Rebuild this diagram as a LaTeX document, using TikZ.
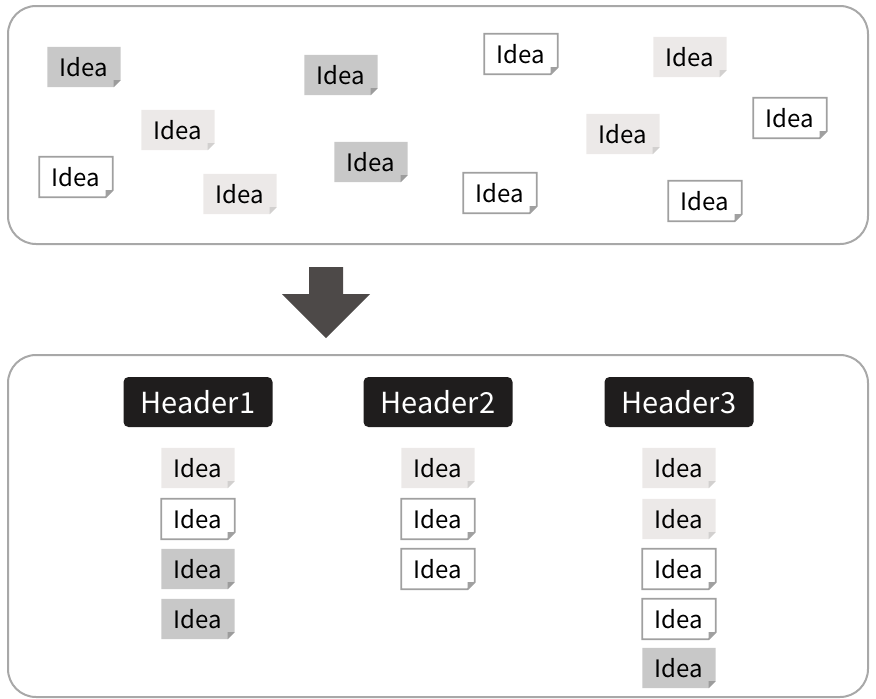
\documentclass[tikz,border=0pt]{standalone}
\usepackage{fontspec}
\setmainfont{Noto Sans CJK JP}
\usetikzlibrary{backgrounds}

\definecolor{panelline}{HTML}{A8A8A8}
\definecolor{noteDark}{HTML}{C8C8C8}
\definecolor{foldDark}{HTML}{9C9C9C}
\definecolor{noteLight}{HTML}{ECE9E8}
\definecolor{foldLight}{HTML}{D2D0CF}
\definecolor{noteLine}{HTML}{A0A0A0}
\definecolor{arrowfill}{HTML}{4D4948}
\definecolor{headfill}{HTML}{1F1D1D}

\tikzset{
  panel/.style={draw=panelline, line width=2pt, rounded corners=28pt},
  notetext/.style={minimum width=73pt, minimum height=40pt, inner sep=0pt,
    font=\fontsize{24}{28}\selectfont, text=black},
  darkpaper/.style={fill=noteDark},
  darkpaper fold/.style={fill=foldDark},
  lightpaper/.style={fill=noteLight},
  lightpaper fold/.style={fill=foldLight},
  linepaper/.style={fill=white, draw=noteLine, line width=1.8pt},
  linepaper fold/.style={fill=noteLine},
  header/.style={fill=headfill, rounded corners=5pt, minimum width=149pt,
    minimum height=50pt, inner sep=0pt, text=white,
    font=\fontsize{29}{33}\selectfont},
}

% one sticky note with a folded lower right corner
\newcommand\ideanote[3]{%
  \node[notetext] (#1) at (#2) {Idea};
  \begin{scope}[on background layer]
    \path[#3] (#1.north west) -- (#1.north east)
      -- ([yshift=7pt]#1.south east) -- ([xshift=-7pt]#1.south east)
      -- (#1.south west) -- cycle;
    \fill[#3 fold] ([yshift=7pt]#1.south east) -- ([xshift=-7pt]#1.south east)
      -- ([xshift=-7pt,yshift=7pt]#1.south east) -- cycle;
  \end{scope}}

\begin{document}
\begin{tikzpicture}[x=1pt, y=-1pt]
  \useasboundingbox (0,0) rectangle (876,699);

  % panels
  \draw[panel] (8,6) rectangle (868,244);
  \draw[panel] (8,355) rectangle (868,697);

  % downward arrow
  \fill[arrowfill] (309,267) -- (343,267) -- (343,294) -- (370,294)
    -- (326,338) -- (282,294) -- (309,294) -- cycle;

  % unsorted ideas
  \ideanote{u1}{84,67}{darkpaper}
  \ideanote{u2}{341,75}{darkpaper}
  \ideanote{u3}{521,54}{linepaper}
  \ideanote{u4}{690,57}{lightpaper}
  \ideanote{u5}{790,118}{linepaper}
  \ideanote{u6}{178,130}{lightpaper}
  \ideanote{u7}{623,134}{lightpaper}
  \ideanote{u8}{371,162}{darkpaper}
  \ideanote{u9}{76,177}{linepaper}
  \ideanote{u10}{240,194}{lightpaper}
  \ideanote{u11}{500,193}{linepaper}
  \ideanote{u12}{705,201}{linepaper}

  % grouped ideas
  \node[header] (h1) at (198,402) {Header1};
  \node[header] (h2) at (438,402) {Header2};
  \node[header] (h3) at (679,402) {Header3};

  \ideanote{a1}{198,468}{lightpaper}
  \ideanote{a2}{198,519}{linepaper}
  \ideanote{a3}{198,569}{darkpaper}
  \ideanote{a4}{198,619}{darkpaper}

  \ideanote{b1}{438,468}{lightpaper}
  \ideanote{b2}{438,519}{linepaper}
  \ideanote{b3}{438,569}{linepaper}

  \ideanote{c1}{679,468}{lightpaper}
  \ideanote{c2}{679,519}{lightpaper}
  \ideanote{c3}{679,569}{linepaper}
  \ideanote{c4}{679,619}{linepaper}
  \ideanote{c5}{679,668}{darkpaper}
\end{tikzpicture}
\end{document}
